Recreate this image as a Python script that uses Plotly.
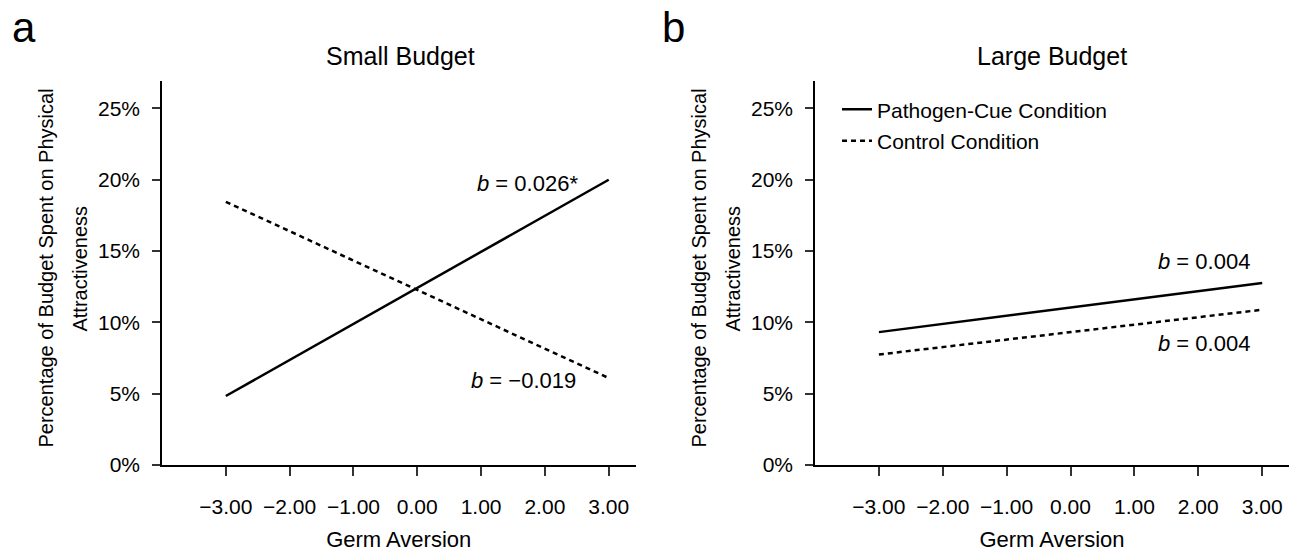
import plotly.graph_objects as go

# ---- data ----
germ_x = [-3.0, 3.0]
small_pathogen = [4.83, 20.0]
small_control = [18.45, 6.09]
large_pathogen = [9.31, 12.76]
large_control = [7.74, 10.88]

x_ticks = [-3, -2, -1, 0, 1, 2, 3]
x_ticklabels = ["\u22123.00", "\u22122.00", "\u22121.00", "0.00", "1.00", "2.00", "3.00"]
y_ticks = [0, 5, 10, 15, 20, 25]
y_ticklabels = ["0%", "5%", "10%", "15%", "20%", "25%"]

panel_titles = ["Small Budget", "Large Budget"]
panel_letters = ["a", "b"]
series_names = ["Pathogen-Cue Condition", "Control Condition"]
y_title_lines = ["Percentage of Budget Spent on Physical", "Attractiveness"]
b_labels_small = ["<i>b</i> = 0.026*", "<i>b</i> = \u22120.019"]
b_labels_large = ["<i>b</i> = 0.004", "<i>b</i> = 0.004"]
b_pos_small = [(2.55, 19.7), (2.52, 5.9)]
b_pos_large = [(2.84, 14.27), (2.84, 8.5)]

FONT = "Liberation Sans Narrow, Arial Narrow, Liberation Sans, Arial, sans-serif"
W, H = 1290, 553

fig = go.Figure()

solid = dict(color="black", width=2.5)
dashed = dict(color="black", width=2.5, dash="5px,4px")

fig.add_trace(go.Scatter(x=germ_x, y=small_pathogen, mode="lines", line=solid,
                         xaxis="x", yaxis="y", showlegend=False, name=series_names[0]))
fig.add_trace(go.Scatter(x=germ_x, y=small_control, mode="lines", line=dashed,
                         xaxis="x", yaxis="y", showlegend=False, name=series_names[1]))
fig.add_trace(go.Scatter(x=germ_x, y=large_pathogen, mode="lines", line=solid,
                         xaxis="x2", yaxis="y2", showlegend=True, name=series_names[0],
                         legendgroup="g1"))
fig.add_trace(go.Scatter(x=germ_x, y=large_control, mode="lines", line=dashed,
                         xaxis="x2", yaxis="y2", showlegend=True, name=series_names[1],
                         legendgroup="g2"))


def px_x(p):
    return p / W


def px_y(p):
    return 1 - p / H


y_dom = [px_y(474.3), px_y(82.7)]
xaxis_common = dict(range=[-4.0, 3.42], showline=True, linecolor="black", linewidth=1.5,
                    ticks="outside", ticklen=9, tickwidth=1.5, tickcolor="#333",
                    tickvals=x_ticks, ticktext=x_ticklabels, showgrid=False, zeroline=False,
                    ticklabelstandoff=13,
                    tickfont=dict(size=21, color="black", family=FONT),
                    title=dict(text="Germ Aversion", font=dict(size=22, color="black", family=FONT),
                               standoff=15))
yaxis_common = dict(range=[0, 26.92], showline=True, linecolor="black", linewidth=1.5,
                    ticks="outside", ticklen=8, tickwidth=1.5, tickcolor="#333",
                    tickvals=y_ticks, ticktext=y_ticklabels, showgrid=False, zeroline=False,
                    ticklabelstandoff=8,
                    tickfont=dict(size=21, color="black", family=FONT), domain=y_dom)

fig.update_layout(
    width=W, height=H,
    margin=dict(l=0, r=0, t=0, b=0),
    paper_bgcolor="white", plot_bgcolor="white",
    font=dict(family=FONT, color="black", size=21),
    xaxis=dict(**xaxis_common, domain=[px_x(162), px_x(635.5)], anchor="y"),
    yaxis=dict(**yaxis_common, anchor="x"),
    xaxis2=dict(**xaxis_common, domain=[px_x(815), px_x(1289)], anchor="y2"),
    yaxis2=dict(**yaxis_common, anchor="x2"),
    legend=dict(x=px_x(837), y=px_y(91), xanchor="left", yanchor="top",
                font=dict(size=21, color="black", family=FONT),
                bgcolor="rgba(0,0,0,0)", itemwidth=30, tracegroupgap=1),
)

ann = []
for i, (cx, lx) in enumerate([(400, 10), (1052, 660)]):
    ann.append(dict(text=panel_titles[i], x=px_x(cx), y=px_y(57), xref="paper", yref="paper",
                    xanchor="center", yanchor="middle", showarrow=False,
                    font=dict(size=25, color="black", family=FONT)))
    ann.append(dict(text=panel_letters[i], x=px_x(lx), y=px_y(28), xref="paper", yref="paper",
                    xanchor="left", yanchor="middle", showarrow=False,
                    font=dict(size=42, color="black", family=FONT)))
    for j, lxp in enumerate([46, 80]):
        ann.append(dict(text=y_title_lines[j], x=px_x(lxp + 653 * i), y=px_y(274),
                        xref="paper", yref="paper",
                        xanchor="center", yanchor="middle", textangle=-90, showarrow=False,
                        font=dict(size=20, color="black", family=FONT)))

for (txt, (bx, by)) in zip(b_labels_small, b_pos_small):
    ann.append(dict(text=txt, x=bx, y=by, xref="x", yref="y", xanchor="right", yanchor="middle",
                    showarrow=False, font=dict(size=22, color="black", family=FONT)))
for (txt, (bx, by)) in zip(b_labels_large, b_pos_large):
    ann.append(dict(text=txt, x=bx, y=by, xref="x2", yref="y2", xanchor="right", yanchor="middle",
                    showarrow=False, font=dict(size=22, color="black", family=FONT)))

fig.update_layout(annotations=ann)

fig.write_html("out.html")
